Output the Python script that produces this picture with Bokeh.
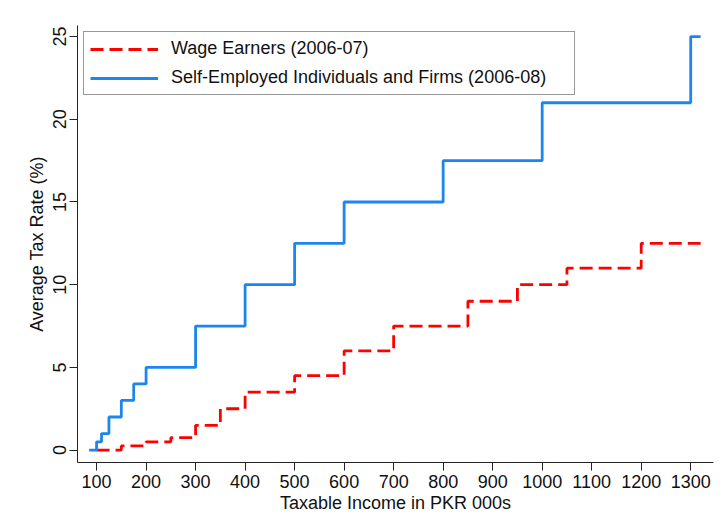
from bokeh.plotting import figure
from bokeh.models import Range1d, FixedTicker, Legend, LegendItem
from bokeh.embed import file_html
from bokeh.resources import INLINE

# Wage Earners (2006-07): income thresholds (PKR 000s) and average tax rate (%)
wage_income = [100, 150, 200, 250, 300, 350, 400, 500, 600, 700, 850, 950, 1050, 1200, 1320]
wage_rate = [0, 0.25, 0.5, 0.75, 1.5, 2.5, 3.5, 4.5, 6, 7.5, 9, 10, 11, 12.5, 12.5]

# Self-Employed Individuals and Firms (2006-08)
self_income = [85, 100, 110, 125, 150, 175, 200, 300, 400, 500, 600, 800, 1000, 1300, 1320]
self_rate = [0, 0.5, 1, 2, 3, 4, 5, 7.5, 10, 12.5, 15, 17.5, 21, 25, 25]

x_ticks = [100, 200, 300, 400, 500, 600, 700, 800, 900, 1000, 1100, 1200, 1300]
y_ticks = [0, 5, 10, 15, 20, 25]

FONT = "Liberation Sans"

p = figure(width=727, height=530, output_backend="svg", toolbar_location=None,
           x_range=Range1d(61.5, 1346), y_range=Range1d(-0.75, 25.67),
           min_border_left=77, min_border_right=14, min_border_top=25, min_border_bottom=68)
p.outline_line_color = None
p.xgrid.grid_line_color = None
p.ygrid.grid_line_color = None
p.background_fill_color = "white"
p.border_fill_color = "white"

r_wage = p.step(wage_income, wage_rate, mode="after", line_color="#ff0000",
                line_width=2.8, line_dash="13 6")
r_self = p.step(self_income, self_rate, mode="after", line_color="#1c86ee",
                line_width=2.8)

for ax in (p.xaxis, p.yaxis):
    ax.axis_line_color = "#222222"
    ax.major_tick_line_color = "#222222"
    ax.major_tick_out = 8
    ax.major_tick_in = 0
    ax.minor_tick_line_color = None
    ax.major_label_text_font = FONT
    ax.major_label_text_font_size = "18px"
    ax.major_label_text_color = "#111111"
    ax.axis_label_text_font = FONT
    ax.axis_label_text_font_size = "18px"
    ax.axis_label_text_font_style = "normal"
    ax.axis_label_text_color = "#111111"

p.xaxis.ticker = FixedTicker(ticks=x_ticks)
p.yaxis.ticker = FixedTicker(ticks=y_ticks)
p.xaxis.axis_label = "Taxable Income in PKR 000s"
p.yaxis.axis_label = "Average Tax Rate (%)"
p.xaxis.major_label_standoff = 4
p.yaxis.major_label_standoff = 3
p.xaxis.axis_label_standoff = 2
p.yaxis.axis_label_standoff = 4
p.yaxis.major_label_orientation = "parallel"

legend = Legend(items=[
    LegendItem(label="Wage Earners (2006-07)", renderers=[r_wage]),
    LegendItem(label="Self-Employed Individuals and Firms (2006-08)", renderers=[r_self]),
], location="top_left")
legend.margin = 6
legend.padding = 6
legend.spacing = 8
legend.glyph_width = 68
legend.glyph_height = 20
legend.label_height = 20
legend.label_width = 397
legend.label_standoff = 13
legend.label_text_font = FONT
legend.label_text_font_size = "18px"
legend.label_text_color = "#111111"
legend.border_line_color = "#333333"
legend.border_line_width = 1
legend.background_fill_color = "white"
legend.background_fill_alpha = 1
p.add_layout(legend)

open("out.html", "w").write(file_html(p, INLINE))
